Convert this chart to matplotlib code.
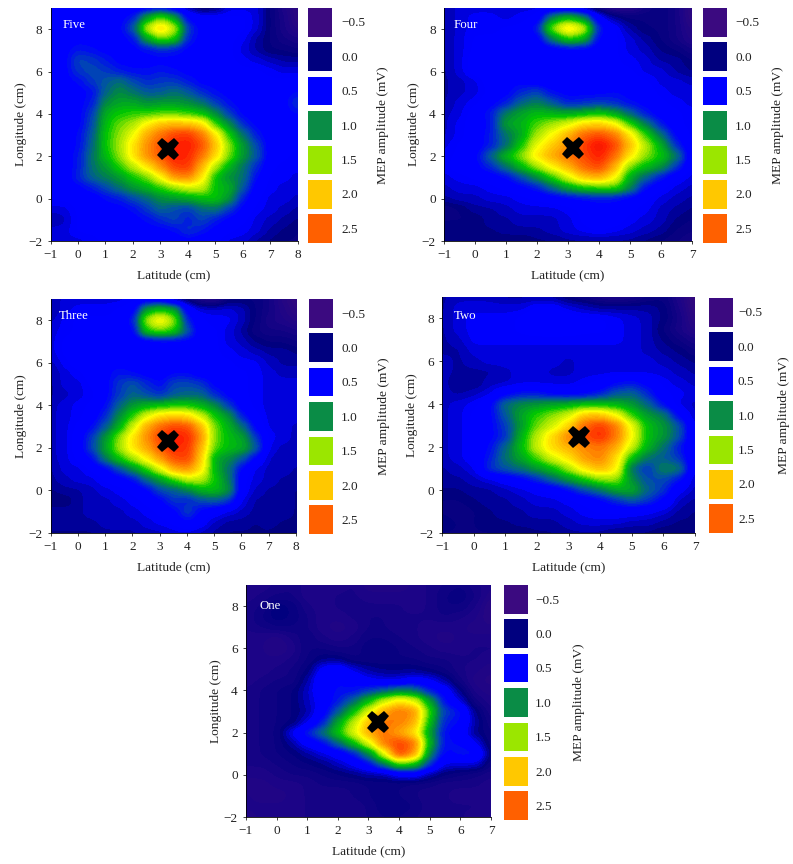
#!/usr/bin/env python3
"""MEP amplitude maps for five stimulation levels, with hotspot markers."""

from __future__ import annotations

import numpy as np
import matplotlib

matplotlib.use("Agg")
import matplotlib.pyplot as plt
from matplotlib.colors import LinearSegmentedColormap
from matplotlib.patches import Rectangle

W, H = 793, 864

LEGEND_LABELS = ["\u22120.5", "0.0", "0.5", "1.0", "1.5", "2.0", "2.5"]
LEGEND_COLORS = ["#3b0a80", "#00007f", "#0000ff", "#0a8c46", "#9be600", "#ffc800", "#ff6000"]

# values on a 0.5 cm grid, rows from y=9 down to y=-2
FIVE = [
    [.4, .4, .4, .4, .4, .4, .4, .45, .5, .4, .2, .05, .1, .3, .3, .3, .1, -.1, -.3],
    [.4, .45, .45, .5, .5, .5, .6, 1.1, 1.4, 1.1, .5, .4, .4, .4, .4, .3, .1, -.05, -.3],
    [.4, .45, .5, .5, .5, .5, .8, 1.6, 2.0, 1.6, .7, .5, .45, .45, .4, .3, .1, -.05, -.2],
    [.4, .45, .5, .5, .5, .5, .55, 1.1, 1.4, 1.3, .6, .5, .45, .4, .35, .2, .1, .0, -.05],
    [.4, .5, .6, .55, .5, .5, .5, .55, .65, .6, .5, .5, .45, .4, .3, .2, .1, .1, .05],
    [.45, .5, .75, .7, .6, .5, .5, .5, .5, .5, .5, .5, .45, .4, .35, .3, .25, .2, .2],
    [.45, .5, .7, .75, .7, .6, .55, .55, .6, .55, .5, .5, .45, .45, .4, .4, .35, .3, .3],
    [.4, .5, .55, .7, .8, .9, .75, .65, .7, .7, .6, .5, .5, .45, .45, .45, .4, .4, .45],
    [.4, .45, .5, .55, .85, 1.0, .9, .8, .8, .9, .8, .65, .55, .5, .45, .45, .5, .5, .55],
    [.4, .45, .5, .6, 1.0, 1.1, 1.1, 1.0, 1.05, 1.05, 1.0, .9, .7, .55, .5, .45, .5, .5, .7],
    [.4, .45, .5, .7, 1.15, 1.25, 1.3, 1.3, 1.35, 1.35, 1.3, 1.2, 1.0, .7, .5, .45, .5, .5, .55],
    [.4, .45, .5, .75, 1.2, 1.4, 1.5, 1.8, 2.0, 2.05, 2.0, 1.9, 1.3, 1.0, .65, .5, .45, .45, .45],
    [.4, .45, .55, .8, 1.25, 1.45, 1.7, 2.1, 2.3, 2.5, 2.55, 2.3, 1.85, 1.25, .9, .6, .45, .45, .4],
    [.4, .45, .55, .85, 1.25, 1.5, 1.85, 2.2, 2.45, 2.6, 2.65, 2.45, 2.0, 1.45, 1.05, .75, .45, .4, .4],
    [.4, .45, .6, .9, 1.2, 1.45, 1.85, 2.2, 2.4, 2.65, 2.6, 2.3, 1.9, 1.4, 1.05, .8, .45, .4, .35],
    [.4, .45, .6, .9, 1.05, 1.3, 1.55, 1.85, 2.2, 2.5, 2.55, 2.05, 1.5, 1.15, .9, .65, .4, .35, .35],
    [.4, .45, .65, .85, .95, 1.05, 1.25, 1.4, 1.75, 2.2, 2.25, 1.85, 1.2, 1.0, .9, .55, .35, .35, .3],
    [.4, .45, .5, .6, .75, .9, 1.05, 1.15, 1.3, 1.45, 1.6, 1.6, 1.2, 1.15, .8, .45, .35, .3, .3],
    [.4, .4, .45, .45, .55, .6, .75, .85, 1.0, 1.05, 1.1, 1.2, 1.25, 1.05, .6, .4, .3, .3, .25],
    [.3, .3, .4, .45, .5, .5, .55, .7, .85, .75, .7, .85, .9, .7, .5, .35, .3, .25, .2],
    [.2, .25, .4, .45, .45, .5, .5, .55, .65, .75, .6, .75, .6, .5, .4, .3, .25, .2, .15],
    [.3, .3, .4, .4, .45, .45, .5, .5, .5, .55, .7, .6, .5, .4, .35, .3, .2, .15, .1],
    [.3, .3, .3, .35, .4, .4, .4, .4, .45, .45, .5, .45, .4, .3, .3, .2, .15, .1, .1],
]

FOUR = [
    [.2, .3, .3, .3, .3, .3, .3, .3, .3, .2, .0, -.2, -.2, .0, .1, .0, -.3],
    [.2, .3, .35, .35, .3, .35, .4, 1.0, 1.2, 1.0, .4, .2, .1, .1, .1, .0, -.3],
    [.2, .3, .35, .35, .4, .4, .6, 1.5, 1.95, 1.7, .6, .4, .2, .1, .1, .0, -.2],
    [.2, .3, .4, .4, .4, .4, .45, .95, 1.3, 1.2, .5, .4, .3, .2, .1, .0, -.15],
    [.2, .3, .4, .45, .4, .4, .4, .45, .5, .5, .45, .4, .3, .25, .15, .1, .0],
    [.2, .3, .45, .5, .45, .4, .4, .4, .4, .4, .4, .4, .35, .3, .2, .2, .1],
    [.2, .3, .45, .5, .5, .45, .4, .4, .4, .4, .4, .4, .4, .3, .3, .2, .15],
    [.2, .25, .3, .45, .5, .5, .45, .4, .45, .45, .45, .45, .45, .4, .3, .3, .25],
    [.2, .25, .3, .4, .5, .65, .75, .55, .5, .5, .5, .55, .5, .45, .35, .3, .3],
    [.2, .3, .35, .5, .6, .85, .95, .8, .6, .65, .7, .65, .55, .5, .4, .35, .3],
    [.25, .3, .45, .6, .95, 1.1, 1.2, 1.15, 1.1, 1.15, 1.25, 1.1, .85, .6, .45, .4, .35],
    [.25, .35, .45, .55, 1.1, 1.15, 1.35, 1.5, 1.65, 1.9, 1.95, 1.8, 1.3, .95, .6, .4, .35],
    [.25, .35, .45, .6, .9, 1.1, 1.5, 1.75, 2.05, 2.35, 2.45, 2.3, 1.85, 1.3, .9, .5, .35],
    [.3, .4, .45, .6, .85, 1.25, 1.7, 1.95, 2.2, 2.5, 2.75, 2.5, 2.0, 1.55, 1.15, .65, .35],
    [.35, .4, .5, .85, 1.2, 1.45, 1.85, 2.1, 2.3, 2.45, 2.65, 2.35, 1.85, 1.45, 1.25, .95, .4],
    [.35, .45, .5, .65, .9, 1.2, 1.5, 1.8, 2.05, 2.35, 2.5, 2.1, 1.4, 1.2, 1.05, .7, .35],
    [.3, .35, .4, .45, .55, .75, 1.0, 1.3, 1.65, 2.0, 2.1, 1.8, 1.1, .85, .6, .4, .3],
    [.25, .3, .3, .35, .4, .5, .6, .85, 1.1, 1.25, 1.3, 1.35, 1.0, .55, .4, .3, .25],
    [.2, .25, .25, .3, .3, .35, .4, .45, .5, .55, .6, .55, .5, .4, .3, .25, .2],
    [.05, .1, .2, .2, .25, .3, .3, .3, .35, .4, .45, .5, .4, .35, .25, .2, .15],
    [.1, .1, .1, .2, .2, .25, .25, .25, .3, .4, .5, .45, .35, .3, .25, .15, .1],
    [.15, .15, .15, .15, .2, .2, .2, .25, .3, .35, .4, .35, .3, .25, .2, .1, .05],
    [.1, .15, .1, .1, .1, .1, .15, .15, .2, .2, .2, .2, .2, .15, .1, .05, .0],
]

THREE = [
    [.2, .3, .3, .3, .3, .3, .35, .4, .4, .2, .1, -.1, -.15, .1, .1, .1, .0, -.2, -.35],
    [.2, .3, .35, .35, .35, .4, .45, 1.1, 1.25, 1.15, .45, .3, .3, .3, .25, .1, .0, -.15, -.3],
    [.25, .35, .4, .4, .4, .4, .6, 1.55, 1.85, 1.5, .6, .4, .35, .35, .25, .1, -.05, -.1, -.2],
    [.3, .35, .4, .4, .4, .4, .5, 1.3, 1.4, 1.3, .8, .4, .4, .3, .2, .05, .0, .0, -.05],
    [.3, .4, .45, .45, .4, .4, .4, .45, .5, .5, .5, .45, .4, .3, .25, .15, .1, .1, .05],
    [.3, .4, .5, .5, .45, .4, .4, .4, .4, .4, .4, .4, .4, .35, .3, .25, .2, .2, .15],
    [.25, .35, .45, .5, .5, .5, .45, .4, .4, .4, .4, .4, .4, .4, .35, .35, .25, .2, .2],
    [.2, .3, .35, .45, .5, .6, .55, .5, .45, .55, .55, .45, .45, .4, .4, .35, .3, .25, .25],
    [.2, .3, .3, .4, .5, .7, .8, .65, .55, .75, .75, .7, .5, .45, .4, .35, .3, .3, .3],
    [.2, .25, .3, .35, .5, .7, .85, .75, .65, .8, .85, .85, .65, .5, .4, .35, .3, .3, .3],
    [.25, .3, .35, .4, .55, .85, 1.05, 1.15, 1.2, 1.25, 1.25, 1.15, 1.0, .7, .45, .35, .3, .3, .3],
    [.25, .3, .35, .45, .65, 1.0, 1.3, 1.65, 1.9, 1.95, 1.9, 1.6, 1.25, 1.05, .6, .4, .3, .3, .3],
    [.25, .3, .4, .55, .8, 1.15, 1.6, 2.1, 2.35, 2.5, 2.45, 2.05, 1.4, 1.15, .9, .5, .3, .3, .25],
    [.25, .3, .45, .7, 1.05, 1.45, 1.85, 2.2, 2.5, 2.65, 2.6, 2.2, 1.4, 1.2, 1.1, .7, .35, .3, .25],
    [.25, .3, .45, .75, 1.1, 1.5, 1.85, 2.1, 2.4, 2.6, 2.55, 2.05, 1.35, 1.2, 1.15, .85, .3, .25, .25],
    [.25, .3, .4, .55, .95, 1.25, 1.5, 1.8, 2.15, 2.45, 2.5, 1.95, 1.1, 1.0, .8, .5, .25, .25, .25],
    [.2, .3, .3, .4, .5, .75, 1.0, 1.3, 1.65, 2.1, 2.2, 1.85, 1.15, .9, .5, .3, .25, .25, .2],
    [.2, .25, .3, .3, .4, .45, .55, .85, 1.05, 1.3, 1.55, 1.55, 1.25, .95, .4, .3, .25, .2, .2],
    [.15, .2, .2, .25, .3, .35, .4, .5, .75, .8, .95, 1.15, 1.2, 1.05, .4, .25, .2, .2, .15],
    [.1, .1, .2, .25, .25, .3, .35, .4, .5, .7, .6, .75, .8, .7, .3, .2, .2, .2, .15],
    [.2, .2, .2, .25, .25, .25, .3, .35, .4, .5, .75, .5, .4, .3, .25, .2, .2, .2, .15],
    [.2, .2, .2, .2, .25, .25, .25, .3, .35, .4, .55, .4, .25, .2, .2, .15, .2, .15, .15],
    [.15, .15, .15, .15, .2, .2, .2, .25, .25, .3, .3, .25, .2, .15, .15, .15, .15, .1, .1],
]

TWO = [
    [.2, .25, .25, .25, .2, .2, .2, .2, .1, .05, -.05, -.1, -.05, .05, .1, -.1, -.4],
    [.2, .3, .3, .3, .3, .3, .4, .4, .3, .25, .2, .2, .2, .2, .15, -.05, -.35],
    [.2, .3, .35, .35, .35, .4, .5, .6, .45, .4, .4, .35, .3, .25, .15, .0, -.3],
    [.2, .3, .35, .35, .35, .4, .45, .45, .45, .4, .4, .35, .3, .25, .1, -.05, -.2],
    [.2, .25, .35, .35, .35, .35, .35, .35, .35, .35, .35, .35, .3, .25, .15, .05, -.05],
    [.2, .2, .3, .3, .3, .3, .3, .3, .3, .3, .3, .3, .3, .25, .2, .15, .05],
    [.25, .2, .25, .3, .3, .3, .3, .3, .25, .3, .3, .3, .3, .3, .25, .2, .15],
    [.25, .2, .2, .2, .25, .3, .3, .25, .25, .3, .3, .3, .3, .3, .3, .25, .2],
    [.25, .15, .15, .25, .25, .3, .3, .3, .3, .35, .4, .55, .6, .5, .35, .3, .25],
    [.25, .2, .25, .3, .5, .6, .6, .5, .45, .5, .6, .8, .85, .65, .4, .35, .3],
    [.25, .3, .35, .5, .9, 1.0, 1.05, 1.1, 1.15, 1.2, 1.2, 1.15, 1.05, .85, .55, .3, .25],
    [.25, .3, .4, .5, .8, 1.1, 1.3, 1.45, 1.6, 2.0, 2.0, 1.75, 1.3, 1.05, .95, .5, .25],
    [.25, .3, .4, .5, .7, 1.05, 1.4, 1.6, 1.9, 2.35, 2.55, 2.3, 1.7, 1.2, 1.05, .8, .3],
    [.25, .3, .4, .5, .65, 1.15, 1.55, 1.9, 2.25, 2.45, 2.6, 2.3, 1.75, 1.2, 1.05, .8, .3],
    [.25, .3, .4, .55, .85, 1.2, 1.6, 1.9, 2.05, 2.2, 2.3, 2.1, 1.6, 1.15, .9, .6, .3],
    [.25, .3, .4, .6, .9, 1.1, 1.35, 1.65, 1.85, 2.15, 2.25, 1.9, 1.2, .9, .8, .7, .3],
    [.2, .25, .3, .7, .8, .9, 1.05, 1.2, 1.5, 1.85, 2.05, 1.85, .85, .65, 1.0, .95, .3],
    [.2, .2, .25, .3, .4, .5, .65, .85, 1.05, 1.25, 1.45, 1.5, 1.0, .75, .75, .6, .25],
    [.15, .15, .2, .2, .25, .3, .35, .4, .55, .75, .9, 1.1, 1.15, .85, .7, .35, .25],
    [.1, .1, .15, .2, .2, .25, .3, .3, .35, .4, .5, .65, .8, .7, .5, .25, .2],
    [.1, .05, .1, .15, .2, .2, .25, .25, .3, .35, .4, .4, .4, .35, .3, .2, .15],
    [.15, .1, .1, .15, .15, .2, .2, .2, .25, .3, .3, .3, .25, .25, .2, .15, .15],
    [.1, .1, .1, .1, .1, .1, .15, .15, .2, .2, .2, .15, .15, .15, .1, .1, .1],
]

ONE = [
    [-.1, -.1, -.05, .0, -.1, -.1, -.1, -.05, -.15, -.15, -.15, -.1, -.05, .0, .05, -.05, -.1],
    [-.1, -.05, .0, .0, -.1, -.1, -.05, -.05, -.1, -.1, -.1, -.1, -.05, .05, .1, .0, -.15],
    [-.05, .0, .15, .1, -.05, -.1, -.05, .0, -.05, -.05, -.05, -.1, -.05, .05, .05, -.05, -.25],
    [-.05, .05, .15, .1, .0, -.1, -.1, -.05, .0, .0, -.05, -.05, -.05, .0, -.05, -.1, -.25],
    [-.05, .0, .05, .05, .0, -.1, -.15, -.1, .0, .0, -.05, -.05, -.1, -.1, -.1, -.15, -.15],
    [-.1, -.1, -.15, -.05, .05, -.05, -.1, -.05, .05, .05, .0, -.05, -.1, -.15, -.1, -.1, -.1],
    [-.1, -.1, -.2, -.1, .05, .05, .0, .0, .1, .1, .05, .0, -.05, -.1, -.1, -.05, -.05],
    [-.1, -.1, -.1, -.05, .05, .15, .15, .05, .05, .05, .05, .05, .0, .0, -.05, -.05, -.1],
    [-.1, -.1, -.05, .0, .1, .4, .5, .3, .2, .15, .15, .15, .1, .05, -.05, -.1, -.15],
    [-.1, -.05, .0, .0, .2, .5, .55, .5, .35, .3, .3, .4, .35, .2, .0, -.15, -.2],
    [-.05, .0, .05, .1, .25, .5, .55, .55, .7, .8, .95, .9, .6, .45, .15, -.1, -.15],
    [-.05, .0, .05, .1, .25, .4, .6, .85, 1.2, 1.6, 1.85, 1.7, 1.1, .55, .3, .0, -.1],
    [-.05, .0, .05, .1, .2, .45, .8, 1.2, 1.65, 2.1, 2.3, 2.2, 1.3, .7, .6, .15, -.05],
    [-.05, .0, .05, .1, .3, .6, 1.1, 1.55, 2.0, 2.3, 2.25, 2.1, 1.2, .6, .55, .2, .0],
    [-.05, .0, .05, .35, .65, .9, 1.25, 1.65, 2.1, 2.3, 2.1, 1.85, 1.05, .55, .45, .15, .05],
    [-.05, .0, .05, .2, .4, .55, .85, 1.2, 1.65, 2.3, 2.5, 2.35, 1.15, .55, .55, .35, .05],
    [-.05, .0, .05, .1, .2, .3, .4, .6, .95, 1.65, 2.55, 2.2, .95, .5, .6, .6, .1],
    [-.05, -.05, .0, .05, .1, .15, .25, .35, .55, .9, 1.35, 1.25, .7, .3, .3, .3, .05],
    [-.1, -.1, -.05, .0, .0, .05, .1, .15, .2, .2, .35, .4, .2, .1, .05, .0, -.05],
    [-.15, -.15, -.1, -.1, -.05, .0, .0, .0, .05, .05, .05, .0, .0, -.05, -.05, -.05, -.1],
    [-.1, -.15, -.15, -.1, -.05, -.05, -.05, .0, .05, .1, .05, .0, -.05, -.05, -.1, -.1, -.1],
    [-.1, -.1, -.1, -.1, -.05, -.05, -.05, -.05, .0, .1, .1, .05, -.05, -.05, -.05, -.05, -.1],
    [-.15, -.1, -.1, -.1, -.05, -.05, -.05, -.05, .0, .05, .05, .0, -.05, -.05, -.05, -.1, -.1],
]

HOTSPOT_X = [3.28, 3.16, 3.32, 3.33, 3.3]
HOTSPOT_Y = [2.34, 2.37, 2.34, 2.49, 2.52]
PANEL_NAMES = ["Five", "Four", "Three", "Two", "One"]
PANEL_GRIDS = [FIVE, FOUR, THREE, TWO, ONE]

# pixel boxes: map left, right, top, bottom, swatch left, swatch top, legend text offset
BOXES = [
    (50.5, 297.5, 8, 241, 308, 8, 33),
    (444, 692, 8, 241, 703, 8, 32),
    (50.7, 296, 299, 533, 309, 299, 32),
    (442.3, 695, 297, 533, 709, 298, 29),
    (246, 491, 585, 817, 504, 585, 31),
]
# where the panel name sits, in axis units
NAME_X = [-0.55, -0.68, -0.7, -0.62, -0.55]
NAME_Y = [8.2, 8.2, 8.2, 8.1, 8.0]

CMAP = LinearSegmentedColormap.from_list(
    "mep",
    [
        (0.0, "#3c0a7a"),
        (0.06, "#2c0880"),
        (0.12, "#1c0488"),
        (0.19, "#00007f"),
        (0.255, "#0000ff"),
        (0.31, "#0000ff"),
        (0.385, "#0050a8"),
        (0.45, "#008a40"),
        (0.53, "#00c800"),
        (0.6, "#a0e600"),
        (0.68, "#ffff00"),
        (0.8, "#ffa000"),
        (0.95, "#ff2000"),
        (1.0, "#f01000"),
    ],
    N=60,
)


def add_axes_px(fig, left, right, top, bottom):
    return fig.add_axes([left / W, 1 - bottom / H, (right - left) / W, (bottom - top) / H])


def draw_panel(fig, box, grid, name, name_x, name_y, hx, hy):
    left, right, top, bottom, sw_left, sw_top, text_off = box
    data = np.array(grid)
    xmax = (data.shape[1] - 1) / 2 - 1

    ax = add_axes_px(fig, left, right, top, bottom)
    # grid nodes sit on the half centimetres, so the cells overhang by a quarter
    ax.imshow(data, extent=[-1.25, xmax + 0.25, -2.25, 9.25], cmap=CMAP, vmin=-0.5, vmax=2.8,
              aspect="auto", interpolation="gaussian", interpolation_stage="data")
    ax.set_xlim(-1, xmax)
    ax.set_ylim(-2, 9)
    ax.plot([hx], [hy], marker="X", ms=16, color="black", mec="black", mew=0, ls="none")
    ax.text(name_x, name_y, name, color="white", fontsize=9.3, va="center")
    ax.set_xticks(np.arange(-1, int(xmax) + 1))
    ax.set_yticks(np.arange(-2, 9, 2))
    ax.set_xticklabels([str(v).replace("-", "\u2212") for v in range(-1, int(xmax) + 1)])
    ax.set_yticklabels([str(v).replace("-", "\u2212") for v in range(-2, 9, 2)])
    ax.tick_params(length=2.5, width=0.6, pad=3.5, labelsize=9.5, color="#222222", labelcolor="#222222")
    ax.set_xlabel("Latitude (cm)", fontsize=9.6, labelpad=5.5, color="#222222")
    ax.set_ylabel("Longitude (cm)", fontsize=9.6, labelpad=1, color="#222222")
    for side in ["top", "right"]:
        ax.spines[side].set_visible(False)
    for side in ["left", "bottom"]:
        ax.spines[side].set_linewidth(0.6)

    # legend swatches are separate boxes next to the map
    for i, (lab, col) in enumerate(zip(LEGEND_LABELS, LEGEND_COLORS)):
        y = sw_top + i * 34.4
        fig.patches.append(Rectangle((sw_left / W, 1 - (y + 28.5) / H), 23.5 / W, 28.5 / H,
                                     transform=fig.transFigure, facecolor=col,
                                     edgecolor="none", figure=fig))
        fig.text((sw_left + text_off) / W, 1 - (y + 15.5) / H, lab, fontsize=9.5, va="center",
                 color="#222222")
    fig.text((sw_left + 75) / W, 1 - (sw_top + 117) / H, "MEP amplitude (mV)", fontsize=9.7,
             rotation=90, ha="center", va="center", color="#222222")


def main():
    plt.rcParams["font.family"] = ["Liberation Serif", "DejaVu Serif"]
    fig = plt.figure(figsize=(W / 100, H / 100), dpi=100)
    for i in range(5):
        draw_panel(fig, BOXES[i], PANEL_GRIDS[i], PANEL_NAMES[i], NAME_X[i], NAME_Y[i],
                   HOTSPOT_X[i], HOTSPOT_Y[i])
    fig.savefig("out.png", dpi=100)


if __name__ == "__main__":
    main()
